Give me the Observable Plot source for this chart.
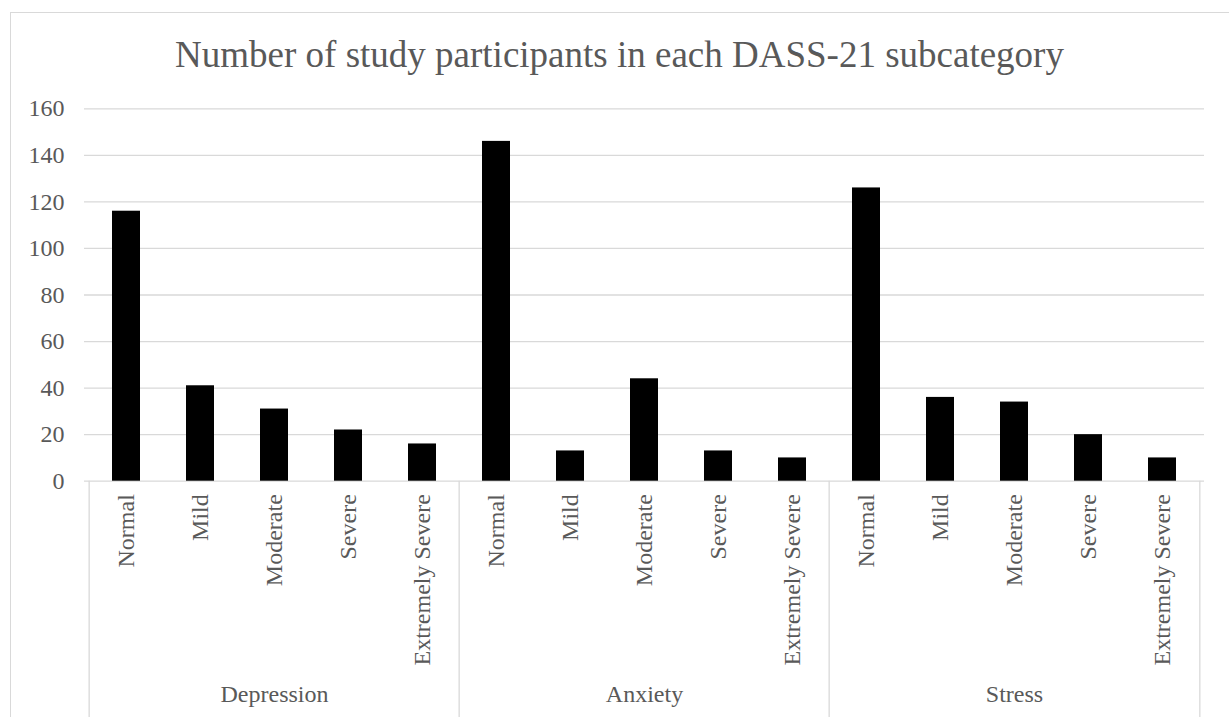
<!DOCTYPE html>
<html>
<head>
<meta charset="utf-8">
<script src="https://cdn.jsdelivr.net/npm/d3@7"></script>
<script src="https://cdn.jsdelivr.net/npm/@observablehq/plot@0.6"></script>
<style>
  html, body { margin: 0; padding: 0; background: #fff; overflow: hidden; }
  #wrap { position: relative; width: 1229px; height: 717px; overflow: hidden; font-family: 'Liberation Serif', serif; }
  #border { position: absolute; left: 10px; top: 12px; width: 1240px; height: 720px; border: 1px solid #d9d9d9; box-sizing: border-box; }
  #title { position: absolute; left: 10px; width: 1219px; top: 36px; line-height: 37px; font-size: 37px; color: #595959; text-align: center; white-space: nowrap; font-family: 'Liberation Serif', serif; }
  #chart { position: absolute; left: 0; top: 80px; }
  #chart svg, #chart svg text { font-family: 'Liberation Serif', serif !important; }
</style>
</head>
<body>
<div id="wrap">
  <div id="border"></div>
  <div id="title">Number of study participants in each DASS-21 subcategory</div>
  <div id="chart"></div>
</div>
<script>
const groups = ["Depression", "Anxiety", "Stress"];
const levels = ["Normal", "Mild", "Moderate", "Severe", "Extremely Severe"];
const depression = [116, 41, 31, 22, 16];
const anxiety = [146, 13, 44, 13, 10];
const stress = [126, 36, 34, 20, 10];
const yTicks = [0, 20, 40, 60, 80, 100, 120, 140, 160];

const seriesByGroup = { Depression: depression, Anxiety: anxiety, Stress: stress };
const data = groups.flatMap(g => levels.map((l, j) => ({ group: g, level: l, key: g + "|" + l, value: seriesByGroup[g][j] })));
const keys = data.map(d => d.key);

const W = 1229, H = 637;
const mL = 84, mR = 25, mT = 28.3, mB = 236.3;
const step = (W - mL - mR) / keys.length;
const yMax = 160;
const pxPerUnit = (H - mT - mB) / yMax;
const yBottom = -mB / pxPerUnit;

const gray = "#d9d9d9";
const textColor = "#595959";

const plot = Plot.plot({
  width: W,
  height: H,
  marginLeft: mL,
  marginRight: mR,
  marginTop: mT,
  marginBottom: mB,
  style: { fontFamily: "Liberation Serif", color: textColor, background: "transparent", overflow: "visible" },
  x: { domain: keys, paddingInner: 0.615, paddingOuter: 0.3075, axis: null },
  y: { domain: [0, yMax], axis: null },
  marks: [
    Plot.ruleY(yTicks, { y: d => d, stroke: gray, strokeWidth: 1.3 }),
    Plot.ruleX(groups.map(g => g + "|" + levels[0]), { x: d => d, dx: -step / 2, y1: 0, y2: yBottom, stroke: gray, strokeWidth: 1.3 }),
    Plot.ruleX([groups[groups.length - 1] + "|" + levels[levels.length - 1]], { x: d => d, dx: step / 2, y1: 0, y2: yBottom, stroke: gray, strokeWidth: 1.3 }),
    Plot.barY(data, { x: "key", y: "value", fill: "#000" }),
    Plot.axisY({ ticks: yTicks, label: null, tickSize: 0, tickPadding: 20, fontSize: 24, fill: textColor }),
    Plot.axisX({ label: null, tickSize: 0, tickPadding: 13, tickRotate: -90, fontSize: 24, fill: textColor, tickFormat: d => d.split("|")[1] }),
    Plot.text(groups, { x: g => g + "|" + levels[2], frameAnchor: "bottom", dy: 221, text: d => d, fontSize: 24, fill: textColor })
  ]
});
document.getElementById("chart").appendChild(plot);
</script>
</body>
</html>
